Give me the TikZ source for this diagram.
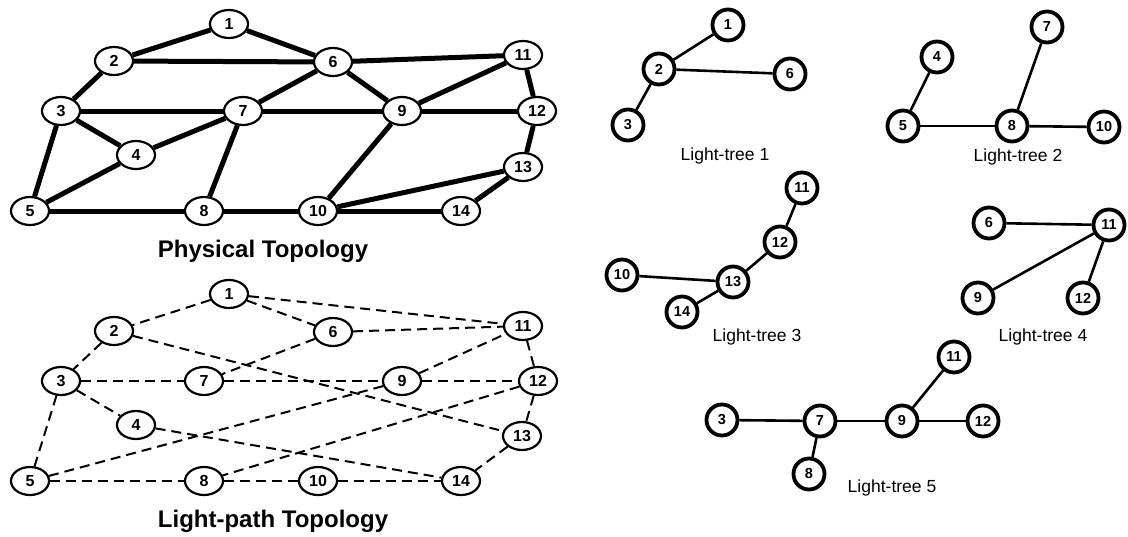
\documentclass[tikz,border=0pt]{standalone}
\usepackage{fontspec}
\setmainfont{Liberation Sans}
\usetikzlibrary{shapes.geometric}
\begin{document}
\begin{tikzpicture}[x=1pt,y=-1pt,
 pnode/.style={ellipse, draw, line width=2.2pt, fill=white, minimum width=38pt, minimum height=28pt, inner sep=0pt, font=\bfseries\fontsize{16}{16}\selectfont},
 tnode/.style={circle, draw, line width=3.8pt, fill=white, minimum size=31pt, inner sep=0pt, font=\bfseries\fontsize{14.5}{14.5}\selectfont},
 pedge/.style={line width=5pt},
 dedge/.style={line width=2pt, dash pattern=on 10pt off 6pt},
 tedge/.style={line width=2.6pt},
 bigtitle/.style={font=\bfseries\fontsize{24}{24}\selectfont},
 treetitle/.style={font=\fontsize{17.5}{17.5}\selectfont}]
\useasboundingbox (0,0) rectangle (1128,536);
% Physical topology
\node[pnode] (p1) at (229,24) {1};
\node[pnode] (p2) at (114,61) {2};
\node[pnode] (p6) at (333,62) {6};
\node[pnode] (p11) at (523,55) {11};
\node[pnode] (p3) at (61,111) {3};
\node[pnode] (p7) at (243,111) {7};
\node[pnode] (p9) at (402,111) {9};
\node[pnode] (p12) at (537,111) {12};
\node[pnode] (p4) at (136,155) {4};
\node[pnode] (p13) at (523,167) {13};
\node[pnode] (p5) at (30,211) {5};
\node[pnode] (p8) at (204,211) {8};
\node[pnode] (p10) at (318,211) {10};
\node[pnode] (p14) at (461,211) {14};
\node[bigtitle] (pt) at (263,251) {Physical Topology};
\foreach \a/\b in {p1/p2,p1/p6,p2/p6,p2/p3,p6/p11,p6/p7,p6/p9,p11/p9,p11/p12,p3/p7,p7/p9,p9/p12,p3/p4,p3/p5,p4/p7,p4/p5,p7/p8,p9/p10,p12/p13,p13/p10,p13/p14,p5/p8,p8/p10,p10/p14}
  \draw[pedge] (\a) -- (\b);
% Light-path topology
\node[pnode] (l1) at (229,294) {1};
\node[pnode] (l2) at (114,331) {2};
\node[pnode] (l6) at (333,332) {6};
\node[pnode] (l11) at (523,326) {11};
\node[pnode] (l3) at (61,381) {3};
\node[pnode] (l7) at (204,381) {7};
\node[pnode] (l9) at (402,381) {9};
\node[pnode] (l12) at (538,381) {12};
\node[pnode] (l4) at (136,425) {4};
\node[pnode] (l13) at (522,436) {13};
\node[pnode] (l5) at (30,481) {5};
\node[pnode] (l8) at (204,481) {8};
\node[pnode] (l10) at (318,481) {10};
\node[pnode] (l14) at (461,481) {14};
\node[bigtitle] (lt) at (273,521) {Light-path Topology};
\foreach \a/\b in {l1/l2,l1/l6,l1/l11,l2/l3,l2/l13,l6/l11,l6/l7,l3/l7,l7/l9,l9/l12,l9/l11,l9/l5,l3/l4,l3/l5,l4/l14,l12/l8,l11/l12,l12/l13,l13/l14,l5/l8,l8/l10,l10/l14}
  \draw[dedge] (\a) -- (\b);
% Light-tree 1
\node[tnode] (a1) at (728,25) {1};
\node[tnode] (a2) at (659,69) {2};
\node[tnode] (a6) at (790,74) {6};
\node[tnode] (a3) at (628,125) {3};
\node[treetitle] (at) at (725,156) {Light-tree 1};
\draw[tedge] (a2) -- (a1);
\draw[tedge] (a2) -- (a6);
\draw[tedge] (a2) -- (a3);
% Light-tree 2
\node[tnode] (b4) at (937,57) {4};
\node[tnode] (b7) at (1047,27) {7};
\node[tnode] (b5) at (903,126) {5};
\node[tnode] (b8) at (1012,126) {8};
\node[tnode] (b10) at (1104,127) {10};
\node[treetitle] (bt) at (1018,157) {Light-tree 2};
\draw[tedge] (b5) -- (b4);
\draw[tedge] (b5) -- (b8);
\draw[tedge] (b8) -- (b7);
\draw[tedge] (b8) -- (b10);
% Light-tree 3
\node[tnode] (c11) at (802,188) {11};
\node[tnode] (c12) at (780,242) {12};
\node[tnode] (c13) at (733,282) {13};
\node[tnode] (c10) at (622,275) {10};
\node[tnode] (c14) at (682,312) {14};
\node[treetitle] (ct) at (757,337) {Light-tree 3};
\draw[tedge] (c11) -- (c12);
\draw[tedge] (c12) -- (c13);
\draw[tedge] (c13) -- (c10);
\draw[tedge] (c13) -- (c14);
% Light-tree 4
\node[tnode] (d6) at (989,223) {6};
\node[tnode] (d11) at (1109,225) {11};
\node[tnode] (d9) at (978,298) {9};
\node[tnode] (d12) at (1083,298) {12};
\node[treetitle] (dt) at (1043,337) {Light-tree 4};
\draw[tedge] (d6) -- (d11);
\draw[tedge] (d11) -- (d9);
\draw[tedge] (d11) -- (d12);
% Light-tree 5
\node[tnode] (e11) at (954,357) {11};
\node[tnode] (e3) at (722,420) {3};
\node[tnode] (e7) at (820,421) {7};
\node[tnode] (e9) at (902,421) {9};
\node[tnode] (e12) at (983,421) {12};
\node[tnode] (e8) at (809,474) {8};
\node[treetitle] (et) at (892,488) {Light-tree 5};
\draw[tedge] (e3) -- (e7);
\draw[tedge] (e7) -- (e9);
\draw[tedge] (e9) -- (e12);
\draw[tedge] (e9) -- (e11);
\draw[tedge] (e7) -- (e8);
\end{tikzpicture}
\end{document}
